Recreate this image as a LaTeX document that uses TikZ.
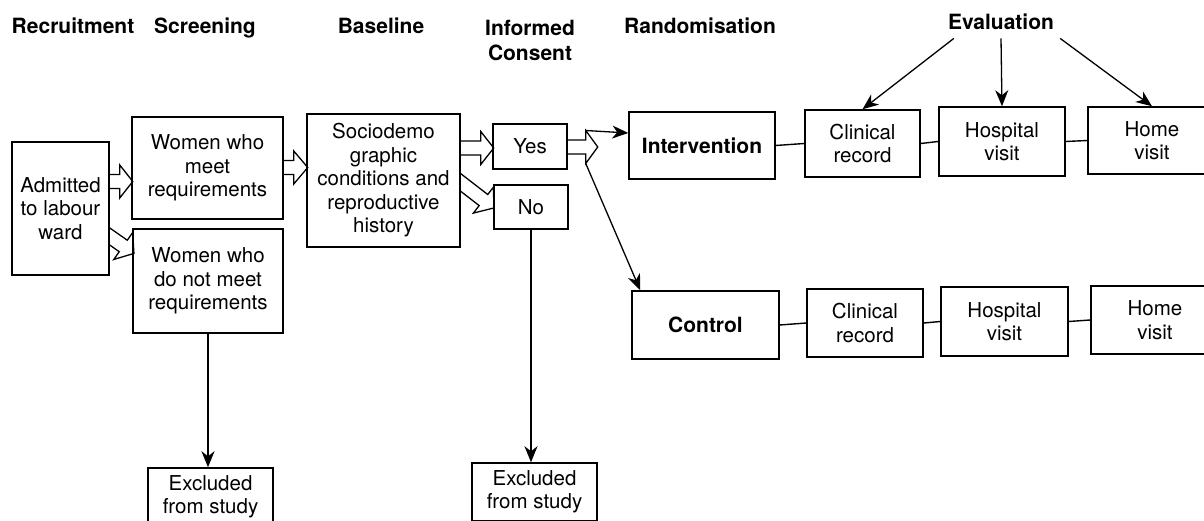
\documentclass[tikz,border=0pt]{standalone}
\usepackage{fontspec}
\setmainfont{TeX Gyre Heros}
\usetikzlibrary{arrows.meta,calc}
\newcommand\blockarrow[5]{% #1 tail point, #2 downward angle, #3 length, #4 head length, #5 name
  \begin{scope}[shift={(#1)}, rotate=-#2]
    \draw[blk] ({-7*tan(#2)},-7) -- (#3-#4,-7) -- (#3-#4,-16.5) -- (#3,0) -- (#3-#4,16.5) -- (#3-#4,7) -- ({7*tan(#2)},7);
    \coordinate (#5-u) at (#3-#4,-16.5);
    \coordinate (#5-d) at (#3-#4,16.5);
  \end{scope}}
\begin{document}
\begin{tikzpicture}[x=1pt,y=-1pt,
  box/.style={draw, line width=1.5pt, align=center, inner sep=0pt, font=\fontsize{20.5}{23.5}\selectfont},
  boldbox/.style={box, font=\fontsize{21}{24}\selectfont\bfseries},
  head/.style={font=\fontsize{21}{25}\selectfont\bfseries, inner sep=0pt, align=center},
  conn/.style={line width=1.4pt},
  arr/.style={line width=1.3pt, -{Stealth[length=16pt,width=13pt,inset=5pt]}},
  blk/.style={line width=1.3pt, line join=miter}
]
\useasboundingbox (0,0) rectangle (1204,521);
\clip (0,0) rectangle (1204,521);

% headings
\node[head, anchor=base] (h1) at (73,34) {Recruitment};
\node[head, anchor=base] (h2) at (205,34) {Screening};
\node[head, anchor=base] (h3) at (381,34) {Baseline};
\node[head] (h4) at (530,40) {Informed\\Consent};
\node[head, anchor=base] (h5) at (700,34) {Randomisation};
\node[head, anchor=base] (eval) at (1001,30) {Evaluation};

% boxes
\node[box, minimum width=97pt, minimum height=133pt] (adm) at (60.5,208.5) {Admitted\\to labour\\ward};
\node[box, minimum width=151pt, minimum height=102pt] (meet) at (207.5,168) {Women who\\meet\\requirements};
\node[box, minimum width=150pt, minimum height=104pt] (notmeet) at (208,281) {Women who\\do not meet\\requirements};
\node[box, minimum width=153pt, minimum height=133pt] (socio) at (383.5,180.5) {Sociodemo\\graphic\\conditions and\\reproductive\\history};
\node[box, minimum width=74pt, minimum height=45pt] (yes) at (530,146.5) {Yes};
\node[box, minimum width=74pt, minimum height=44pt] (no) at (531,207) {No};

\node[boldbox, minimum width=146pt, minimum height=67pt] (interv) at (702,145.5) {Intervention};
\node[box, minimum width=115pt, minimum height=67pt] (clin1) at (862.5,143.5) {Clinical\\record};
\node[box, minimum width=126pt, minimum height=69pt] (hosp1) at (1002,141.5) {Hospital\\visit};
\node[box, minimum width=128pt, minimum height=67pt] (home1) at (1152,140.5) {Home\\visit};

\node[boldbox, minimum width=147pt, minimum height=68pt] (control) at (705.5,325) {Control};
\node[box, minimum width=116pt, minimum height=68pt] (clin2) at (865,323) {Clinical\\record};
\node[box, minimum width=127pt, minimum height=69pt] (hosp2) at (1004.5,321.5) {Hospital\\visit};
\node[box, minimum width=128pt, minimum height=68pt] (home2) at (1155,320) {Home\\visit};

\node[box, minimum width=125pt, minimum height=58pt] (excl1) at (210.5,497) {Excluded\\from study};
\node[box, minimum width=125pt, minimum height=58pt] (excl2) at (534.5,492) {Excluded\\from study};

% block arrows
\blockarrow{adm.east |- 0,181.5}{0}{23}{13}{a1}
\blockarrow{adm.east |- 0,236.5}{35}{29.5}{13}{a2}
\blockarrow{meet.east |- 0,167.5}{0}{24}{14}{a3}
\blockarrow{socio.east |- 0,148}{0}{33}{13}{a4}
\blockarrow{socio.east |- 0,182.5}{37.7}{41.7}{13}{a5}
\blockarrow{yes.east |- 0,147}{0}{30}{12}{ya}

% randomisation arrows
\draw[arr] (ya-u) -- ($(interv.west)+(0,-12.5)$);
\draw[arr] (ya-d) -- ($(control.north west)+(9,0)$);

% row connectors
\draw[conn] (interv.east) -- (clin1.west);
\draw[conn] (clin1.east) -- (hosp1.west);
\draw[conn] (hosp1.east) -- (home1.west);
\draw[conn] (control.east) -- (clin2.west);
\draw[conn] (clin2.east) -- (hosp2.west);
\draw[conn] (hosp2.east) -- (home2.west);

% evaluation arrows
\draw[arr] ($(eval.south west)+(6,8)$) -- (clin1.north);
\draw[arr] ($(eval.south)+(0,8)$) -- (hosp1.north);
\draw[arr] ($(eval.south east)+(6,8)$) -- (home1.north);

% exclusion arrows
\draw[arr] (notmeet.south) -- (notmeet.south |- excl1.north);
\draw[arr] (no.south) -- (no.south |- excl2.north);
\end{tikzpicture}
\end{document}
